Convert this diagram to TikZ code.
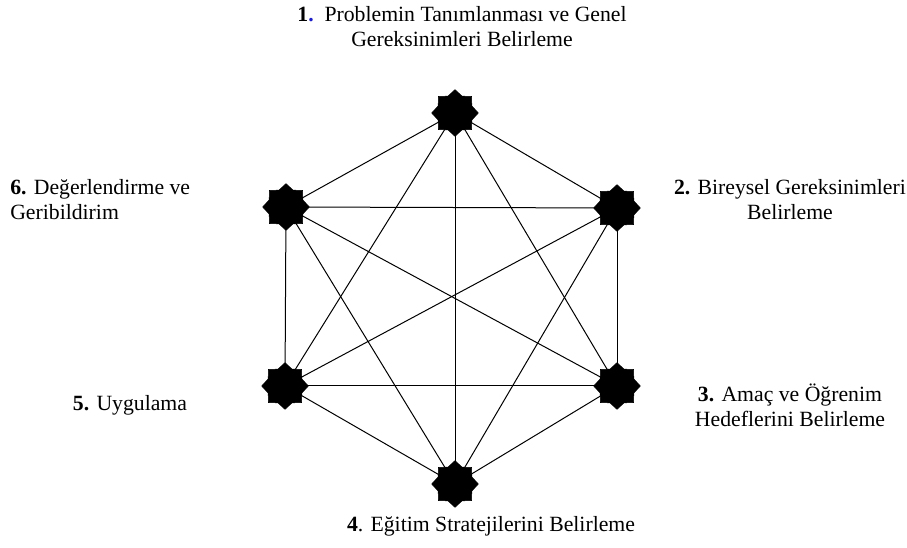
\documentclass[tikz,border=0pt]{standalone}
\usepackage{fontspec}
\setmainfont{Liberation Serif}
\usetikzlibrary{shapes.geometric}
\definecolor{numblue}{RGB}{30,30,200}
\begin{document}
\begin{tikzpicture}[x=0.75pt,y=-0.75pt,
  starnode/.style={star, star points=8, star point ratio=1.28, fill=black, draw=black, inner sep=0pt, minimum size=35pt},
  edge/.style={draw=black, line width=0.75pt},
  lbl/.style={font=\fontsize{16.3}{18.8}\selectfont, inner sep=0pt, align=center}]
\useasboundingbox (0,0) rectangle (907,548);
\coordinate (c1) at (455,113);
\coordinate (c2) at (617,208);
\coordinate (c3) at (617,386);
\coordinate (c4) at (455,484);
\coordinate (c5) at (285,386);
\coordinate (c6) at (286,207);
\foreach \a/\b in {1/2,1/3,1/4,1/5,1/6,2/3,2/4,2/5,2/6,3/4,3/5,3/6,4/5,4/6,5/6}
  \draw[edge] (c\a) -- (c\b);
\foreach \i in {1,...,6}
  \node[starnode] (s\i) at (c\i) {};
\node[lbl] (t1) at (462,27) {\textbf{1}\textcolor{numblue}{\textbf{.}}\hspace{0.5em}Problemin Tanımlanması ve Genel\\Gereksinimleri Belirleme};
\node[lbl] (t2) at (790,200) {\textbf{2.} Bireysel Gereksinimleri\\Belirleme};
\node[lbl] (t3) at (790,405) {\textbf{3.} Amaç ve Öğrenim\\Hedeflerini Belirleme};
\node[lbl] (t4) at (491,526) {\textbf{4}. Eğitim Stratejilerini Belirleme};
\node[lbl] (t5) at (130,405) {\textbf{5.} Uygulama};
\node[lbl, align=left, anchor=west] (t6) at (10,200) {\textbf{6.} Değerlendirme ve\\Geribildirim};
\end{tikzpicture}
\end{document}
